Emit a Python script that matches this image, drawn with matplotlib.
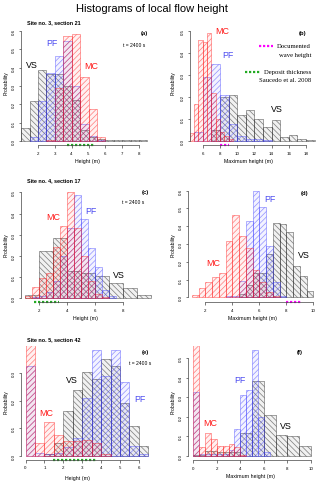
import numpy as np
import matplotlib
matplotlib.use("Agg")
import matplotlib.pyplot as plt
import matplotlib.transforms as mtransforms

plt.rcParams['font.family'] = ['Liberation Sans', 'DejaVu Sans']
plt.rcParams['hatch.linewidth'] = 0.5

W, H = 320, 485

# ---- data (probability density per bin) ----
# (a) site 3, local flow height, t = 2400 s
a_vs_x0, a_vs_w = 1.0, 0.5
a_vs = [0.07, 0.216, 0.386, 0.368, 0.366, 0.30, 0.225, 0.06, 0.02, 0.01, 0.005, 0.005, 0.005, 0.005, 0.005]
a_pf_x0, a_pf_w = 1.5, 0.5
a_pf = [0.02, 0.22, 0.37, 0.465, 0.547, 0.30, 0.093, 0.03, 0.005]
a_mc_x0, a_mc_w = 2.5, 0.5
a_mc = [0.005, 0.29, 0.571, 0.584, 0.347, 0.175, 0.02]
a_deposit = (3.75, 5.4)

# (b) site 3, maximum height
b_mc_x0, b_mc_w = 4.5, 0.5
b_mc = [0.035, 0.167, 0.46, 0.45, 0.49, 0.22, 0.1, 0.04, 0.02, 0.01]
b_pf_x0, b_pf_w = 5.0, 1.0
b_pf = [0.04, 0.292, 0.35, 0.21, 0.076, 0.02, 0.01, 0.01, 0.005]
b_vs_x0, b_vs_w = 7.0, 1.0
b_vs = [0.05, 0.2, 0.21, 0.116, 0.14, 0.10, 0.064, 0.093, 0.018, 0.024, 0.01, 0.005]
b_wave = (8.0, 9.0)

# (c) site 4, local flow height
c_mc_x0, c_mc_w = 1.0, 0.5
c_mc = [0.012, 0.055, 0.097, 0.118, 0.24, 0.342, 0.50, 0.33, 0.2, 0.08, 0.02, 0.005]
c_pf_x0, c_pf_w = 1.5, 0.5
c_pf = [0.005, 0.01, 0.03, 0.08, 0.2, 0.33, 0.487, 0.374, 0.236, 0.15, 0.04, 0.01]
c_vs_x0, c_vs_w = 1.0, 1.0
c_vs = [0.016, 0.225, 0.283, 0.13, 0.12, 0.104, 0.07, 0.05, 0.015]
c_deposit = (1.6, 3.4)

# (d) site 4, maximum height
d_mc_x0, d_mc_w = 1.0, 0.5
d_mc = [0.013, 0.05, 0.088, 0.114, 0.137, 0.315, 0.465, 0.343, 0.28, 0.154, 0.084, 0.03, 0.01]
d_pf_x0, d_pf_w = 3.5, 0.5
d_pf = [0.005, 0.01, 0.094, 0.428, 0.597, 0.51, 0.29, 0.086, 0.01]
d_vs_x0, d_vs_w = 4.5, 0.5
d_vs = [0.02, 0.07, 0.135, 0.137, 0.244, 0.416, 0.41, 0.366, 0.178, 0.122, 0.034]
d_wave = (8.0, 9.1)

# (e) site 5, local flow height
e_mc_x0, e_mc_w = 0.0, 0.5
e_mc = [1.54, 0.045, 0.121, 0.075, 0.053, 0.053, 0.058, 0.045, 0.006]
e_pf_x0, e_pf_w = 0.0, 0.5
e_pf = [0.324, 0.008, 0.005, 0.01, 0.03, 0.063, 0.21, 0.383, 0.29, 0.383, 0.266, 0.034, 0.005]
e_vs_x0, e_vs_w = 1.0, 0.5
e_vs = [0.005, 0.046, 0.163, 0.24, 0.305, 0.28, 0.35, 0.324, 0.19, 0.106, 0.034]
e_deposit = (1.45, 3.75)

# (f) site 5, maximum height
f_mc_x0, f_mc_w = 0.0, 0.5
f_mc = [1.51, 0.043, 0.114, 0.084, 0.051, 0.051, 0.058, 0.046, 0.005]
f_pf_x0, f_pf_w = 0.0, 0.5
f_pf = [0.328, 0.01, 0.01, 0.01, 0.01, 0.01, 0.03, 0.137, 0.312, 0.336, 0.541, 0.2, 0.02]
f_vs_x0, f_vs_w = 0.0, 1.0
f_vs = [0.005, 0.025, 0.02, 0.02, 0.115, 0.38, 0.208, 0.104, 0.1, 0.05]

RED = (1.0, 0.1, 0.1)
BLUE = (0.25, 0.25, 1.0)
BLACK = (0.1, 0.1, 0.1)

fig = plt.figure(figsize=(W / 100, H / 100), dpi=100)


def ftext(x, y, s, **kw):
    fig.text(x / W, 1 - y / H, s, **kw)


def panel(box, xmap, ymap, xticks, yticks):
    L, T, R, B = box
    ax = fig.add_axes([L / W, 1 - B / H, (R - L) / W, (B - T) / H])
    (xv0, xp0), (xv1, xp1) = xmap
    s = (xp1 - xp0) / (xv1 - xv0)
    ax.set_xlim(xv0 + (L - xp0) / s, xv0 + (R - xp0) / s)
    (yv0, yp0), (yv1, yp1) = ymap
    sy = (yp0 - yp1) / (yv1 - yv0)
    ax.set_ylim(yv0 + (yp0 - B) / sy, yv0 + (yp0 - T) / sy)
    for sp in ['top', 'right']:
        ax.spines[sp].set_visible(False)
    ax.spines['left'].set_bounds(yticks[0], yticks[-1])
    ax.spines['bottom'].set_bounds(xticks[0], xticks[-1])
    for sp in ['left', 'bottom']:
        ax.spines[sp].set_linewidth(0.5)
        ax.spines[sp].set_color('#444444')
    ax.set_xticks(xticks)
    ax.set_xticklabels([f'{t:g}' for t in xticks])
    ax.set_yticks(yticks)
    ax.set_yticklabels([f'{t:.1f}' for t in yticks], rotation=90, va='center')
    ax.tick_params(length=1.8, width=0.5, labelsize=3.2, pad=2.2, color='#444444')
    ax.patch.set_alpha(0)
    return ax


def hist(ax, x0, w, vals, color, hatch):
    left = x0 + w * np.arange(len(vals))
    ax.bar(left, vals, width=w, align='edge', facecolor=color + (0.06,),
           edgecolor=color + (0.55,), linewidth=0.5, hatch=hatch)


def segment(ax, span, color):
    trans = mtransforms.blended_transform_factory(ax.transData, ax.transAxes)
    ax.plot(span, [0, 0], transform=trans, color=color, lw=1.6,
            dashes=(1.0, 0.8), clip_on=False, solid_capstyle='butt')


HATCH_C = '//////'
HATCH_V = '\\\\\\\\\\\\'

# (a)
ax = panel((21, 27.6, 150, 146.4), ((2, 38), (8, 139)), ((0, 142), (0.6, 32)),
           [2, 3, 4, 5, 6, 7, 8], [0, 0.1, 0.2, 0.3, 0.4, 0.5, 0.6])
hist(ax, a_vs_x0, a_vs_w, a_vs, BLACK, HATCH_V)
hist(ax, a_pf_x0, a_pf_w, a_pf, BLUE, HATCH_C)
hist(ax, a_mc_x0, a_mc_w, a_mc, RED, HATCH_C)
segment(ax, a_deposit, '#22aa22')

# (b)
ax = panel((190, 27.6, 316, 146), ((6, 202.7), (18, 306)), ((0, 141.7), (0.5, 32.3)),
           [6, 8, 10, 12, 14, 16, 18], [0, 0.1, 0.2, 0.3, 0.4, 0.5])
hist(ax, b_vs_x0, b_vs_w, b_vs, BLACK, HATCH_V)
hist(ax, b_pf_x0, b_pf_w, b_pf, BLUE, HATCH_C)
hist(ax, b_mc_x0, b_mc_w, b_mc, RED, HATCH_C)
segment(ax, b_wave, '#ff00ff')

# (c)
ax = panel((21, 188, 152, 303.3), ((2, 39.3), (8, 122.7)), ((0, 299.3), (0.5, 193.3)),
           [2, 4, 6, 8], [0, 0.1, 0.2, 0.3, 0.4, 0.5])
hist(ax, c_vs_x0, c_vs_w, c_vs, BLACK, HATCH_V)
hist(ax, c_pf_x0, c_pf_w, c_pf, BLUE, HATCH_C)
hist(ax, c_mc_x0, c_mc_w, c_mc, RED, HATCH_C)
segment(ax, c_deposit, '#22aa22')

# (d)
ax = panel((188.3, 187, 316, 303.3), ((2, 205.3), (10, 313.3)), ((0, 298.3), (0.6, 191.7)),
           [2, 4, 6, 8, 10], [0, 0.1, 0.2, 0.3, 0.4, 0.5, 0.6])
hist(ax, d_vs_x0, d_vs_w, d_vs, BLACK, HATCH_V)
hist(ax, d_pf_x0, d_pf_w, d_pf, BLUE, HATCH_C)
hist(ax, d_mc_x0, d_mc_w, d_mc, RED, HATCH_C)
segment(ax, d_wave, '#ff00ff')

# (e)
ax = panel((21, 346.5, 152, 460.7), ((0, 25.5), (5, 120)), ((0, 456.7), (0.3, 374)),
           [0, 1, 2, 3, 4, 5, 6], [0, 0.1, 0.2, 0.3])
hist(ax, e_vs_x0, e_vs_w, e_vs, BLACK, HATCH_V)
hist(ax, e_pf_x0, e_pf_w, e_pf, BLUE, HATCH_C)
hist(ax, e_mc_x0, e_mc_w, e_mc, RED, HATCH_C)
segment(ax, e_deposit, '#22aa22')

# (f)
ax = panel((188.3, 346.5, 316, 461.3), ((0, 193.3), (10, 311)), ((0, 456.7), (0.5, 359)),
           [0, 2, 4, 6, 8, 10], [0, 0.1, 0.2, 0.3, 0.4, 0.5])
hist(ax, f_vs_x0, f_vs_w, f_vs, BLACK, HATCH_V)
hist(ax, f_pf_x0, f_pf_w, f_pf, BLUE, HATCH_C)
hist(ax, f_mc_x0, f_mc_w, f_mc, RED, HATCH_C)

# ---- text ----
ftext(152, 9, 'Histograms of local flow height', ha='center', va='center', fontsize=8)

for y, s in [(22.7, 'Site no. 3, section 21'), (180.7, 'Site no. 4, section 17'),
             (339.3, 'Site no. 5, section 42')]:
    ftext(27, y, s, ha='left', va='center', fontsize=3.9, fontweight='bold')

for x, y, s in [(144, 34, '(a)'), (303, 34, '(b)'), (145, 192.7, '(c)'),
                (305, 193.3, '(d)'), (145.7, 352.3, '(e)'), (300, 352.3, '(f)')]:
    ftext(x, y, s, ha='center', va='center', fontsize=4.2, fontweight='bold')

for x, y in [(134, 45.7), (133, 202.7), (140, 363.3)]:
    ftext(x, y, 't = 2400 s', ha='center', va='center', fontsize=3.6)

labels = [
    (91.7, 66.7, 'MC', '#ff1a1a'), (51.7, 43, 'PF', '#4a4af0'), (32.3, 65, 'VS', 'black'),
    (222.7, 32, 'MC', '#ff1a1a'), (227.7, 55, 'PF', '#4a4af0'), (277, 109, 'VS', 'black'),
    (53.3, 217.3, 'MC', '#ff1a1a'), (90.7, 211.7, 'PF', '#4a4af0'), (119.3, 276, 'VS', 'black'),
    (213.3, 264, 'MC', '#ff1a1a'), (270, 200, 'PF', '#4a4af0'), (304, 256, 'VS', 'black'),
    (46.7, 414, 'MC', '#ff1a1a'), (140, 399.3, 'PF', '#4a4af0'), (71.7, 381, 'VS', 'black'),
    (210.7, 424, 'MC', '#ff1a1a'), (240, 380.7, 'PF', '#4a4af0'), (286, 426.7, 'VS', 'black'),
]
for x, y, s, c in labels:
    ftext(x, y, s, ha='center', va='center', fontsize=6.4, color=c)

for x, y in [(6, 83), (172.7, 83), (6, 245), (172.7, 245), (6, 402), (172.7, 402)]:
    ftext(x, y, 'Probability', ha='center', va='center', rotation=90, fontsize=3.6)

for x, y, s in [(87, 161.7, 'Height (m)'), (248, 161.7, 'Maximum height (m)'),
                (85, 318.3, 'Height (m)'), (252, 318.3, 'Maximum height (m)'),
                (77, 478.3, 'Height (m)'), (250, 476.5, 'Maximum height (m)')]:
    ftext(x, y, s, ha='center', va='center', fontsize=3.8)

# legend in (b)
fig.add_artist(plt.Line2D([259 / W, 273 / W], [1 - 47.3 / H] * 2, color='#ff00ff', lw=1.6,
                          dashes=(1.0, 0.8), solid_capstyle='butt'))
fig.add_artist(plt.Line2D([245 / W, 260 / W], [1 - 72.7 / H] * 2, color='#22aa22', lw=1.6,
                          dashes=(1.0, 0.8), solid_capstyle='butt'))
serif = ['Liberation Serif', 'DejaVu Serif']
ftext(311, 46.7, 'Documented', ha='right', va='center', fontsize=4.8, family=serif)
ftext(311, 55.5, 'wave height', ha='right', va='center', fontsize=4.8, family=serif)
ftext(311, 72.7, 'Deposit thickness', ha='right', va='center', fontsize=4.8, family=serif)
ftext(311, 81, 'Saucedo et al. 2008', ha='right', va='center', fontsize=4.8, family=serif)

fig.savefig('out.png', dpi=100)
